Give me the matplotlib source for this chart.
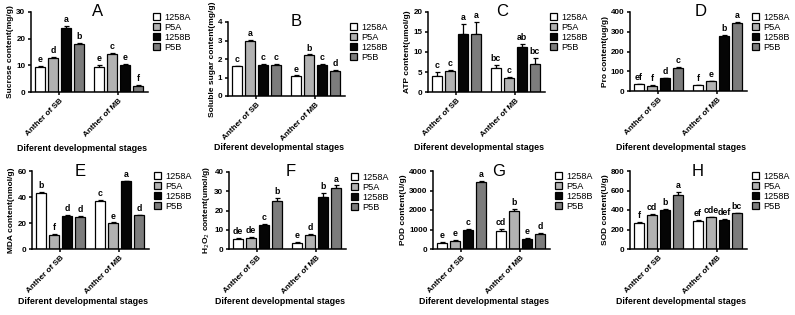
import numpy as np
import matplotlib
matplotlib.use('Agg')
import matplotlib.pyplot as plt

plt.rcParams['font.family'] = ['Liberation Sans', 'DejaVu Sans']

W, H = 795, 315

groups = ['Anther of SB', 'Anther of MB']
genotypes = ['1258A', 'P5A', '1258B', 'P5B']
colors = ['#ffffff', '#b2b2b2', '#050505', '#7c7c7c']

# values per panel: rows = genotypes, columns = groups (SB, MB)
sucrose = [[9.3, 9.2], [12.8, 14.3], [24.0, 10.0], [18.0, 2.3]]
sucrose_err = [[0.3, 0.8], [0.3, 0.5], [0.6, 0.4], [0.4, 0.2]]
sucrose_sig = [['e', 'e'], ['d', 'c'], ['a', 'e'], ['b', 'f']]

sugar = [[1.6, 1.08], [3.0, 2.22], [1.68, 1.68], [1.7, 1.37]]
sugar_err = [[0.03, 0.03], [0.03, 0.03], [0.04, 0.04], [0.03, 0.03]]
sugar_sig = [['c', 'e'], ['a', 'b'], ['c', 'c'], ['c', 'd']]

atp = [[4.1, 5.9], [5.3, 3.5], [14.5, 11.2], [14.5, 7.1]]
atp_err = [[0.8, 0.8], [0.3, 0.3], [2.5, 0.7], [3.1, 1.5]]
atp_sig = [['c', 'bc'], ['c', 'c'], ['a', 'ab'], ['a', 'bc']]

pro = [[35, 30], [27, 50], [65, 278], [117, 343]]
pro_err = [[2, 2], [2, 3], [2, 6], [3, 8]]
pro_sig = [['ef', 'f'], ['f', 'e'], ['d', 'b'], ['c', 'a']]

mda = [[43, 37], [11, 20], [25.5, 52], [25, 26]]
mda_err = [[0.5, 0.6], [0.4, 0.4], [0.4, 0.4], [0.6, 0.4]]
mda_sig = [['b', 'c'], ['f', 'e'], ['d', 'a'], ['d', 'd']]

h2o2 = [[5.2, 3.3], [5.8, 7.5], [12.3, 27.2], [25.0, 31.5]]
h2o2_err = [[0.3, 0.4], [0.6, 0.5], [0.5, 1.8], [1.6, 1.5]]
h2o2_sig = [['de', 'e'], ['de', 'd'], ['c', 'b'], ['b', 'a']]

pod = [[320, 940], [400, 1930], [1000, 530], [3420, 770]]
pod_err = [[30, 80], [40, 100], [30, 30], [60, 60]]
pod_sig = [['e', 'cd'], ['e', 'b'], ['c', 'e'], ['a', 'd']]

sod = [[265, 288], [345, 325], [405, 300], [550, 365]]
sod_err = [[10, 10], [10, 5], [6, 5], [35, 6]]
sod_sig = [['f', 'ef'], ['cd', 'cde'], ['b', 'def'], ['a', 'bc']]

# (letter, values, errors, letters, ylabel, yticks, (left, top, bottom, xlabel_y) px, title x frac)
panels = [
    ('A', sucrose, sucrose_err, sucrose_sig, 'Sucrose content(mg/g)', [0, 10, 20, 30], (31, 12, 92, 148), 0.57),
    ('B', sugar, sugar_err, sugar_sig, 'Soluble sugar content(mg/g)', [0, 1, 2, 3, 4], (228, 22, 96, 147), 0.58),
    ('C', atp, atp_err, atp_sig, 'ATP content(umol/g)', [0, 5, 10, 15, 20], (428, 12, 92, 147), 0.63),
    ('D', pro, pro_err, pro_sig, 'Pro content(ug/g)', [0, 100, 200, 300, 400], (630, 12, 91, 147), 0.6),
    ('E', mda, mda_err, mda_sig, 'MDA content(nmol/g)', [0, 20, 40, 60], (32, 171, 249, 302), 0.41),
    ('F', h2o2, h2o2_err, h2o2_sig, 'H$_2$O$_2$ content(umol/g)', [0, 10, 20, 30, 40], (229, 172, 249, 302), 0.53),
    ('G', pod, pod_err, pod_sig, 'POD content(U/g)', [0, 1000, 2000, 3000, 4000], (433, 171, 249, 302), 0.56),
    ('H', sod, sod_err, sod_sig, 'SOD content(U/g)', [0, 200, 400, 600, 800], (630, 171, 249, 302), 0.58),
]

fig = plt.figure(figsize=(W / 100, H / 100), dpi=100)

x = np.arange(len(groups))
width = 0.17
step = 0.22
axw = 117

for name, vals, errs, sig, ylabel, yticks, (left, top, bottom, xl_y), tx in panels:
    ax = fig.add_axes([left / W, 1 - bottom / H, axw / W, (bottom - top) / H])
    ymax = yticks[-1]
    handles = []
    for i, g in enumerate(genotypes):
        pos = x + (i - 1.5) * step
        b = ax.bar(pos, vals[i], width, color=colors[i], edgecolor='black',
                   linewidth=0.9, label=g, zorder=2)
        handles.append(b)
        ax.errorbar(pos, vals[i], yerr=[np.zeros(len(groups)), errs[i]], fmt='none',
                    ecolor='black', elinewidth=0.9, capsize=1.8, capthick=0.9, zorder=1)
        for j in range(len(groups)):
            ax.text(pos[j], vals[i][j] + errs[i][j] + ymax * 0.025, sig[i][j],
                    ha='center', va='bottom', fontsize=6.3, fontweight='bold')
    ax.set_xlim(-0.48, 1.5)
    ax.set_ylim(0, ymax)
    ax.set_yticks(yticks)
    ax.set_xticks(x)
    ax.set_xticklabels(groups, rotation=45, ha='right', rotation_mode='anchor',
                       fontsize=5.9, fontweight='bold')
    ax.tick_params(axis='y', labelsize=5.8, length=2.5, width=1.1, pad=1.5)
    ax.tick_params(axis='x', length=2.5, width=1.1, pad=1.5)
    for lbl in ax.get_yticklabels():
        lbl.set_fontweight('bold')
    for s in ['top', 'right']:
        ax.spines[s].set_visible(False)
    for s in ['left', 'bottom']:
        ax.spines[s].set_linewidth(1.1)
    ax.set_ylabel(ylabel, fontsize=6.0, fontweight='bold', labelpad=1.5)
    ax.set_xlabel('Diferent developmental stages', fontsize=6.4, fontweight='bold', va='center')
    ax.xaxis.set_label_coords(0.44, -(xl_y - bottom) / (bottom - top))
    ax.text(tx, 1.0, name, transform=ax.transAxes, ha='center', va='center', fontsize=12)
    fig.legend(handles=handles, labels=genotypes,
               loc='upper left', bbox_to_anchor=((left + axw + 5) / W, 1 - (top + 1) / H),
               frameon=False, fontsize=6.6, handlelength=0.8, handleheight=0.8,
               handletextpad=0.4, labelspacing=0.1, borderpad=0, borderaxespad=0)

fig.savefig('out.png', dpi=100)
